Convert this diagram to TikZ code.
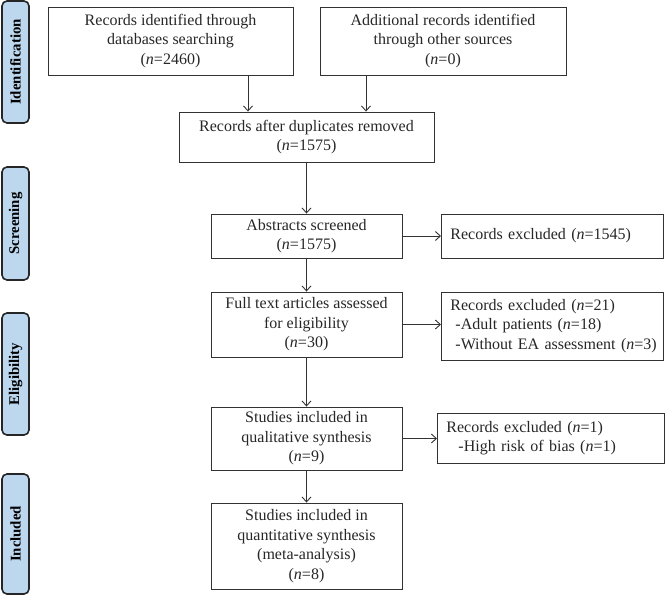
\documentclass[tikz,border=0pt]{standalone}
\usepackage{fontspec}
\setmainfont{Liberation Serif}
\usetikzlibrary{arrows.meta}
\definecolor{sidefill}{RGB}{189,215,238}
\definecolor{boxline}{RGB}{50,50,50}
\newcommand{\nn}{\textit{n}}
\begin{document}
\begin{tikzpicture}[x=1pt,y=-1pt,
  box/.style={draw=boxline,line width=0.9pt,align=center,inner sep=1pt,
    font=\fontsize{16}{19.5}\selectfont,text=black!85},
  lbox/.style={box,align=left,anchor=west,text width=#1},
  side/.style={draw=black!85,fill=sidefill,line width=1.6pt,rounded corners=5pt,
    rotate=90,minimum height=27pt,inner sep=0pt,
    font=\fontsize{14.8}{16}\selectfont\bfseries},
  arr/.style={draw=boxline,line width=0.9pt,-{Straight Barb[length=5pt,width=9pt]}}]
\useasboundingbox (0,0) rectangle (669,597);

% side labels
\node[side,minimum width=122pt] (sI) at (15.5,62) {Identification};
\node[side,minimum width=113pt] (sS) at (15.5,223.5) {Screening};
\node[side,minimum width=122pt] (sE) at (15.5,374) {Eligibility};
\node[side,minimum width=120pt] (sN) at (15.5,534) {Included};

% boxes
\node[box,minimum width=245pt,minimum height=68pt] (A) at (170.5,41)
  {Records identified through\\databases searching\\(\nn=2460)};
\node[box,minimum width=246pt,minimum height=68pt] (B) at (443,41)
  {Additional records identified\\through other sources\\(\nn=0)};
\node[box,minimum width=255pt,minimum height=50pt] (C) at (306.5,137)
  {Records after duplicates removed\\(\nn=1575)};
\node[box,minimum width=191pt,minimum height=44pt] (D) at (306.5,236)
  {Abstracts screened\\(\nn=1575)};
\node[lbox=212pt,minimum height=44pt,inner xsep=5pt] (E) at (441,236)
  {\mbox{\hspace*{4pt}Records excluded (\nn=1545)}};
\node[box,minimum width=191pt,minimum height=65pt] (F) at (306.5,324.5)
  {Full text articles assessed\\for eligibility\\(\nn=30)};
\node[lbox=212pt,minimum height=68pt,inner xsep=5pt] (G) at (441,326)
  {\mbox{\hspace*{4pt}Records excluded (\nn=21)}\\\mbox{\hspace*{9pt}-Adult patients (\nn=18)}\\\mbox{\hspace*{9pt}-Without EA assessment (\nn=3)}};
\node[box,minimum width=191pt,minimum height=63pt] (H) at (306.5,438.5)
  {Studies included in\\qualitative synthesis\\(\nn=9)};
\node[lbox=217pt,minimum height=50pt,inner xsep=5pt] (I) at (437,438)
  {\mbox{\hspace*{4pt}Records excluded (\nn=1)}\\\mbox{\hspace*{16pt}-High risk of bias (\nn=1)}};
\node[box,minimum width=191pt,minimum height=86pt] (J) at (306.5,546)
  {Studies included in\\quantitative synthesis\\(meta-analysis)\\(\nn=8)};

% connectors
\draw[arr] ([xshift=77.5pt]A.south) -- ([xshift=77.5pt]A.south |- C.north);
\draw[arr] ([xshift=-77pt]B.south) -- ([xshift=-77pt]B.south |- C.north);
\draw[arr] (C) -- (D);
\draw[arr] (D) -- (E);
\draw[arr] (D) -- (F);
\draw[arr] (F.east) -- (F.east -| G.west);
\draw[arr] (F) -- (H);
\draw[arr] (H.east) -- (H.east -| I.west);
\draw[arr] (H) -- (J);
\end{tikzpicture}
\end{document}
